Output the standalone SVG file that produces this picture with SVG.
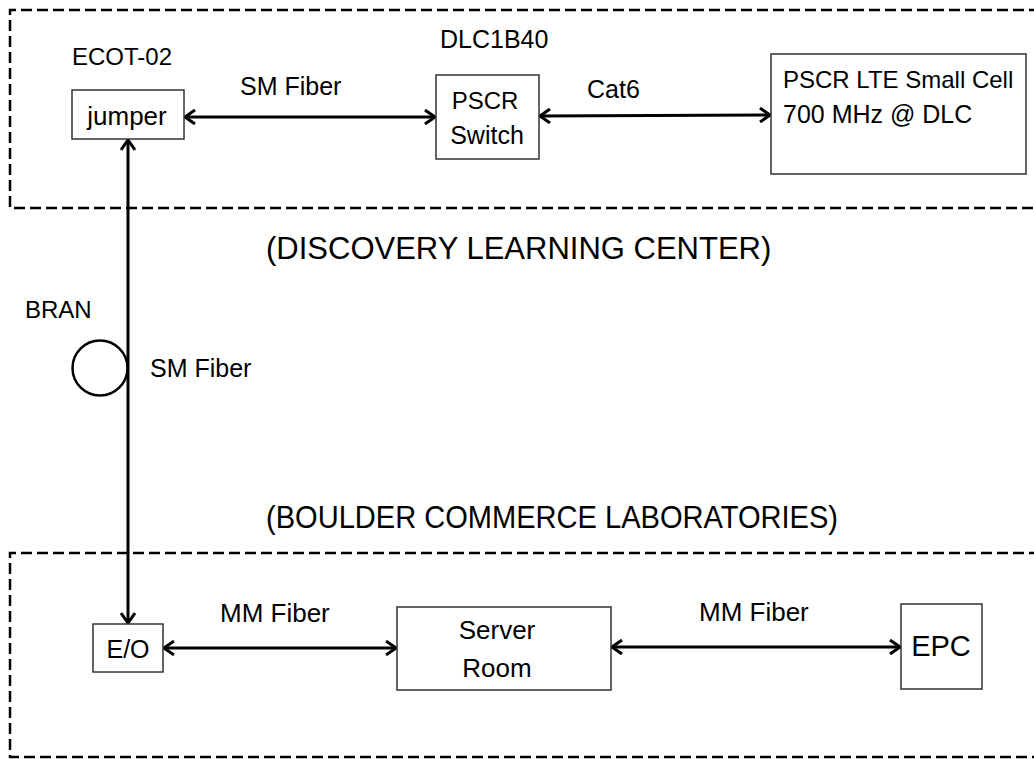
<svg xmlns="http://www.w3.org/2000/svg" width="1034" height="759" viewBox="0 0 1034 759">
<style>
text{font-family:"Liberation Sans",Arial,sans-serif;fill:#000;font-size:25px;}
.h{font-size:31px;}
.w{font-size:26px;}
.box{fill:#fff;stroke:#333;stroke-width:1.5;}
.zone{fill:none;stroke:#000;stroke-width:2.5;stroke-dasharray:11 5;}
.link{fill:none;stroke:#000;stroke-width:3;marker-start:url(#arr);marker-end:url(#arr);}
</style>
<defs>
<marker id="arr" viewBox="0 0 14 16" refX="12" refY="8" markerWidth="14" markerHeight="16" markerUnits="userSpaceOnUse" orient="auto-start-reverse">
<path d="M2,1 L12,8 L2,15" fill="none" stroke="#000" stroke-width="3"/>
</marker>
</defs>
<rect width="1034" height="759" fill="#fff"/>
<g id="zones">
<path class="zone" d="M1040,10 H10 V208 H1040"/>
<path class="zone" d="M1040,553 H10 V757 H1040"/>
<text class="h" x="266" y="259">(DISCOVERY LEARNING CENTER)</text>
<text class="h" x="266" y="528" textLength="572" lengthAdjust="spacingAndGlyphs">(BOULDER COMMERCE LABORATORIES)</text>
</g>
<g id="connectors">
<line class="link" x1="185" y1="117" x2="435" y2="117"/>
<line class="link" x1="540" y1="116" x2="770" y2="115"/>
<line class="link" x1="128" y1="140" x2="128" y2="623"/>
<line class="link" x1="164" y1="648" x2="396" y2="648"/>
<line class="link" x1="612" y1="647" x2="900" y2="647"/>
<circle cx="100" cy="368" r="27.5" fill="none" stroke="#000" stroke-width="2.5"/>
<text x="240" y="95">SM Fiber</text>
<text x="587" y="98">Cat6</text>
<text x="25" y="318" style="font-size:24px">BRAN</text>
<text x="150" y="377">SM Fiber</text>
<text class="w" x="220" y="622">MM Fiber</text>
<text class="w" x="699" y="621">MM Fiber</text>
</g>
<g id="jumper">
<text x="72" y="65" style="font-size:24px">ECOT-02</text>
<rect class="box" x="72" y="90" width="112" height="49"/>
<text class="w" x="127" y="125" text-anchor="middle">jumper</text>
</g>
<g id="switch">
<text x="440" y="48">DLC1B40</text>
<rect class="box" x="436" y="75" width="103" height="84"/>
<text x="485" y="109" text-anchor="middle" style="font-size:24px">PSCR</text>
<text x="487" y="144" text-anchor="middle">Switch</text>
</g>
<g id="smallcell">
<rect class="box" x="771" y="54" width="255" height="120"/>
<text x="783" y="88" style="font-size:24px">PSCR LTE Small Cell</text>
<text x="783" y="123">700 MHz @ DLC</text>
</g>
<g id="eo">
<rect class="box" x="93" y="624" width="70" height="48"/>
<text x="128" y="658" text-anchor="middle">E/O</text>
</g>
<g id="server">
<rect class="box" x="397" y="607" width="214" height="83"/>
<text class="w" x="497" y="639" text-anchor="middle">Server</text>
<text class="w" x="497" y="677" text-anchor="middle">Room</text>
</g>
<g id="epc">
<rect class="box" x="901" y="604" width="81" height="85"/>
<text x="941" y="656" text-anchor="middle" style="font-size:29px">EPC</text>
</g>
</svg>
